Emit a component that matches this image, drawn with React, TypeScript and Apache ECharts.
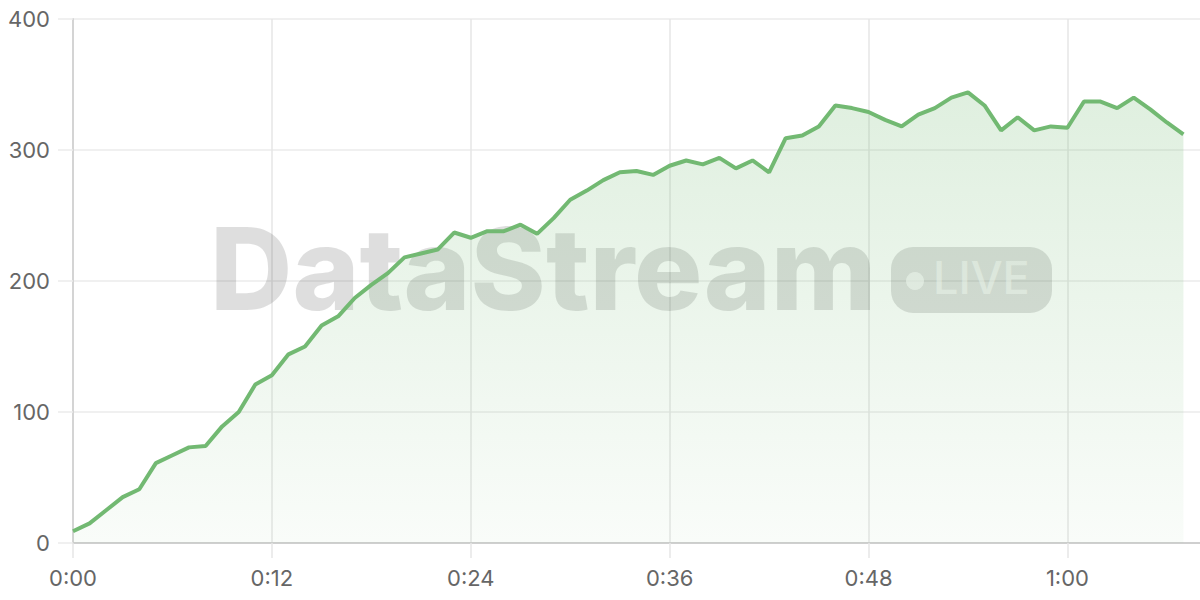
import * as echarts from "echarts";
import React, { useEffect, useRef } from "react";

// minutes elapsed, one point per minute (axis runs one step past the data)
const timeLabels: string[] = Array.from(
  { length: 69 },
  (_, i) => `${Math.floor(i / 60)}:${String(i % 60).padStart(2, "0")}`
);

const viewers: number[] = [
  9, 15, 25, 35, 41, 61, 67, 73, 74, 89, 100, 121, 128, 144, 150, 166, 173,
  187, 197, 206, 218, 221, 224, 237, 233, 238, 238, 243, 236, 248, 262, 269,
  277, 283, 284, 281, 288, 292, 289, 294, 286, 292, 283, 309, 311, 318, 334,
  332, 329, 323, 318, 327, 332, 340, 344, 334, 315, 325, 315, 318, 317, 337,
  337, 332, 340, 331, 321, 312,
];

const yTicks = { min: 0, max: 400, step: 100 };

const GREEN = "#72b972";
const FONT = "Inter, 'Noto Sans', sans-serif";

const App: React.FC = () => {
  const chartRef = useRef<HTMLDivElement>(null);

  useEffect(() => {
    document.body.style.margin = "0";
    if (!chartRef.current) return;
    const chart = echarts.init(chartRef.current, undefined, { renderer: "svg" });

    const option = {
      animation: false,
      grid: { left: 73, right: 0, top: 19, bottom: 57 },
      graphic: [
        {
          type: "text",
          z: 1,
          left: 210,
          top: 211,
          style: {
            text: "DataStream",
            fontFamily: FONT,
            fontWeight: 800,
            fontSize: 114,
            fill: "rgba(0,0,0,0.13)",
          },
        },
        {
          type: "rect",
          z: 1,
          shape: { x: 891, y: 247, width: 161, height: 66, r: 22 },
          style: { fill: "rgba(0,0,0,0.13)" },
        },
        {
          type: "circle",
          z: 1,
          shape: { cx: 915, cy: 281, r: 9 },
          style: { fill: "rgba(255,255,255,0.6)" },
        },
        {
          type: "text",
          z: 1,
          left: 933,
          top: 255,
          style: {
            text: "LIVE",
            fontFamily: FONT,
            fontWeight: 500,
            fontSize: 45,
            fill: "rgba(255,255,255,0.55)",
          },
        },
      ],
      xAxis: {
        type: "category",
        data: timeLabels,
        boundaryGap: false,
        axisLine: { show: true, lineStyle: { color: "#cfcfcf", width: 2 } },
        axisTick: {
          show: true,
          interval: 11,
          length: 15,
          lineStyle: { color: "#e6e6e6", width: 1.5 },
        },
        axisLabel: {
          interval: 11,
          margin: 24,
          color: "#666",
          fontSize: 22,
          fontFamily: FONT,
        },
        splitLine: {
          show: true,
          interval: 11,
          lineStyle: { color: "#e6e6e6", width: 1.5 },
        },
      },
      yAxis: {
        type: "value",
        min: yTicks.min,
        max: yTicks.max,
        interval: yTicks.step,
        axisLine: { show: true, lineStyle: { color: "#d4d4d4", width: 2 } },
        axisTick: {
          show: true,
          length: 15,
          lineStyle: { color: "#ebebeb", width: 1.5 },
        },
        axisLabel: {
          margin: 23,
          color: "#666",
          fontSize: 22,
          fontFamily: FONT,
        },
        splitLine: { lineStyle: { color: "#ebebeb", width: 1.5 } },
      },
      series: [
        {
          type: "line",
          data: viewers,
          symbol: "none",
          smooth: false,
          lineStyle: { color: GREEN, width: 4 },
          itemStyle: { color: GREEN },
          areaStyle: {
            color: new echarts.graphic.LinearGradient(0, 0, 0, 1, [
              { offset: 0, color: "rgba(114,185,114,0.32)" },
              { offset: 1, color: "rgba(114,185,114,0.06)" },
            ]),
          },
        },
      ],
    };

    chart.setOption(option);
    return () => {
      chart.dispose();
    };
  }, []);

  return <div ref={chartRef} style={{ width: "1200px", height: "600px" }}></div>;
};

export default App;
